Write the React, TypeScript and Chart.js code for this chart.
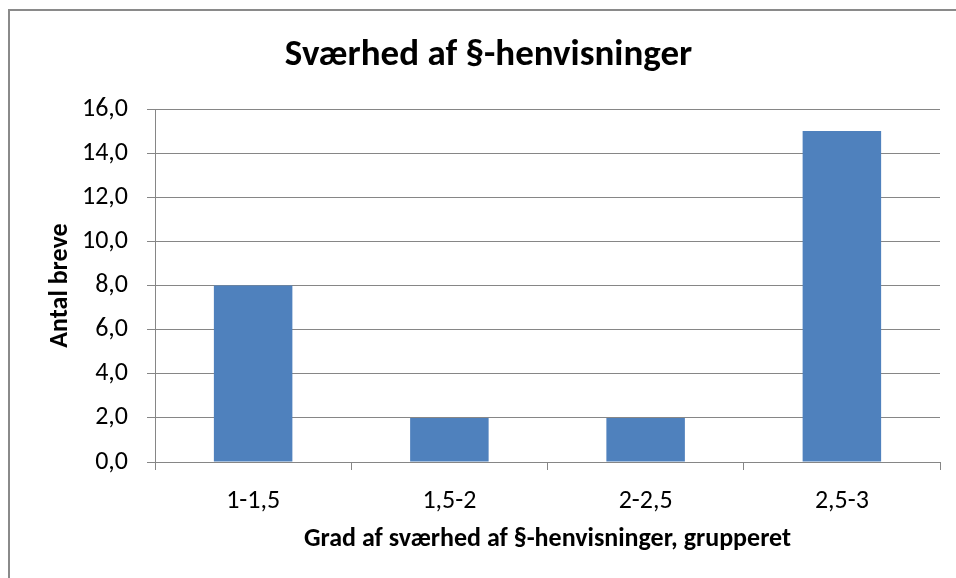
import React, { useEffect, useRef } from "react";
import { Chart, registerables } from "chart.js";

Chart.register(...registerables);

const categories = ["1-1,5", "1,5-2", "2-2,5", "2,5-3"];
const antalBreve = [8, 2, 2, 15];
const chartTitle = "Sværhed af §-henvisninger";
const xTitle = "Grad af sværhed af §-henvisninger, grupperet";
const yTitle = "Antal breve";
const yMin = 0;
const yMax = 16;
const yStep = 2;

const FONT = "Carlito, Lato, 'Open Sans', sans-serif";
const GRID = "#868686";

const framePlugin = {
  id: "frame",
  beforeDraw(chart: any) {
    const ctx = chart.ctx;
    ctx.save();
    ctx.fillStyle = "#ffffff";
    ctx.fillRect(0, 0, chart.width, chart.height);
    ctx.strokeStyle = "#8a8a8a";
    ctx.lineWidth = 2;
    ctx.strokeRect(9, 10, chart.width + 20, chart.height + 20);
    ctx.restore();
  },
  afterDraw(chart: any) {
    const ctx = chart.ctx;
    ctx.save();
    ctx.fillStyle = "#000000";
    ctx.font = `bold 37px ${FONT}`;
    ctx.textAlign = "center";
    ctx.textBaseline = "alphabetic";
    ctx.fillText(chartTitle, 488.5, 65);
    ctx.restore();
  },
};

export default function App() {
  const ref = useRef<HTMLCanvasElement | null>(null);

  useEffect(() => {
    if (!ref.current) return;
    const chart = new Chart(ref.current, {
      type: "bar",
      data: {
        labels: categories,
        datasets: [
          {
            label: yTitle,
            data: antalBreve,
            backgroundColor: "#4F81BD",
            borderWidth: 0,
            barPercentage: 0.4,
            categoryPercentage: 1,
          },
        ],
      },
      options: {
        animation: false,
        responsive: false,
        maintainAspectRatio: false,
        layout: { padding: { left: 0, right: 16, top: 109, bottom: 0 } },
        plugins: {
          legend: { display: false },
          tooltip: { enabled: false },
          title: { display: false },
        },
        scales: {
          x: {
            afterFit(scale: any) {
              scale.height = 116;
            },
            grid: {
              display: true,
              drawOnChartArea: false,
              drawTicks: true,
              tickLength: 8,
              offset: true,
              color: GRID,
            },
            border: { display: true, color: GRID, width: 1 },
            ticks: {
              color: "#000000",
              padding: 16,
              font: { family: FONT, size: 26 },
            },
            title: {
              display: true,
              text: xTitle,
              color: "#000000",
              font: { family: FONT, size: 26, weight: "bold", lineHeight: 1.2 },
              padding: { top: 0, bottom: 23.4 },
            },
          },
          y: {
            min: yMin,
            max: yMax,
            afterFit(scale: any) {
              scale.width = 155;
            },
            grid: {
              color: GRID,
              drawTicks: true,
              tickLength: 8,
            },
            border: { display: true, color: GRID, width: 1 },
            ticks: {
              stepSize: yStep,
              color: "#000000",
              padding: 19,
              font: { family: FONT, size: 26 },
              callback: (v: any) => Number(v).toFixed(1).replace(".", ","),
            },
            title: {
              display: true,
              text: yTitle,
              color: "#000000",
              font: { family: FONT, size: 26, weight: "bold", lineHeight: 1.2 },
              padding: { top: 44.4, bottom: 0 },
            },
          },
        },
      },
      plugins: [framePlugin],
    });
    return () => chart.destroy();
  }, []);

  return (
    <div style={{ position: "absolute", left: 0, top: 0, width: 956, height: 578 }}>
      <canvas ref={ref} width={956} height={578} style={{ display: "block" }} />
    </div>
  );
}
